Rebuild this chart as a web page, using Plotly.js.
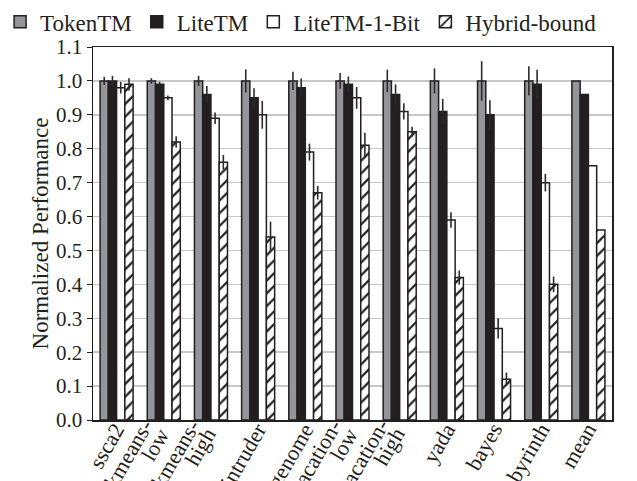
<!DOCTYPE html>
<html>
<head>
<meta charset="utf-8">
<script src="https://cdn.plot.ly/plotly-3.0.1.min.js"></script>
<style>html,body{margin:0;padding:0;background:#fff;}#chart{width:637px;height:481px;}</style>
</head>
<body>
<div id="chart"></div>
<script>
var categories = ["ssca2","kmeans-low","kmeans-high","intruder","genome","vacation-low","vacation-high","yada","bayes","labyrinth","mean"];
var labelLine1 = ["ssca2","kmeans-","kmeans-","intruder","genome","vacation-","vacation-","yada","bayes","labyrinth","mean"];
var labelLine2 = ["","low","high","","","low","high","","","",""];
var seriesNames = ["TokenTM","LiteTM","LiteTM-1-Bit","Hybrid-bound"];
var tokenTM =      [1.00,1.00,1.00,1.00,1.00,1.00,1.00,1.00,1.00,1.00,1.00];
var tokenTMErr =   [0.012,0.008,0.015,0.034,0.027,0.023,0.033,0.037,0.058,0.043,0];
var liteTM =       [1.00,0.99,0.96,0.95,0.98,0.99,0.96,0.91,0.90,0.99,0.96];
var liteTMErr =    [0.015,0.008,0.025,0.028,0.027,0.023,0.030,0.037,0.043,0.043,0];
var liteTM1Bit =   [0.98,0.95,0.89,0.90,0.79,0.95,0.91,0.59,0.27,0.70,0.75];
var liteTM1BitErr =[0.017,0.007,0.017,0.041,0.025,0.032,0.024,0.023,0.030,0.026,0];
var hybrid =       [0.99,0.82,0.76,0.54,0.67,0.81,0.85,0.42,0.12,0.40,0.56];
var hybridErr =    [0.018,0.017,0.022,0.045,0.020,0.037,0.015,0.021,0.020,0.023,0];
var yTicks = [0,0.1,0.2,0.3,0.4,0.5,0.6,0.7,0.8,0.9,1.0,1.1];

var dark = "#231f20";
function err(a){ return {type:"data", array:a, visible:true, width:0, thickness:1.6, color:"#2b2b2b"}; }
var lineStyle = {color: dark, width: 1.5};
var traces = [
  {type:"bar", name:seriesNames[0], x:categories, y:tokenTM, error_y:err(tokenTMErr),
   marker:{color:"#939598", line:lineStyle}},
  {type:"bar", name:seriesNames[1], x:categories, y:liteTM, error_y:err(liteTMErr),
   marker:{color:dark, line:lineStyle}},
  {type:"bar", name:seriesNames[2], x:categories, y:liteTM1Bit, error_y:err(liteTM1BitErr),
   marker:{color:"#ffffff", line:lineStyle}},
  {type:"bar", name:seriesNames[3], x:categories, y:hybrid, error_y:err(hybridErr),
   marker:{color:"#ffffff", line:lineStyle,
     pattern:{shape:"/", fgcolor:dark, bgcolor:"#ffffff", size:9, solidity:0.25}}}
];
var font = '"Liberation Serif", "Times New Roman", "DejaVu Serif", serif';

// rotated category labels (two-line labels split into two annotations)
var annotations = [];
categories.forEach(function(c, i){
  var two = labelLine2[i] !== "";
  var base = {x:c, xref:"x", y:0, yref:"paper", textangle:-60, showarrow:false,
    xanchor:"right", yanchor:"top", font:{family:font, size:22, color:dark}};
  if(!two){
    annotations.push(Object.assign({}, base, {text:labelLine1[i], xshift:16, yshift:4}));
  } else {
    annotations.push(Object.assign({}, base, {text:labelLine1[i], xshift:-3, yshift:8}));
    annotations.push(Object.assign({}, base, {text:labelLine2[i], xshift:13, yshift:-1}));
  }
});

var layout = {
  width:637, height:481,
  margin:{l:93, r:25, t:47, b:61, pad:0, autoexpand:false},
  paper_bgcolor:"#fff", plot_bgcolor:"#fff",
  barmode:"group", bargap:0.3, bargroupgap:0,
  font:{family:font, color:dark, size:20},
  showlegend:true,
  legend:{orientation:"h", x:-0.179, xanchor:"left", y:1.125, yanchor:"top",
    font:{family:font, size:23, color:dark}, bgcolor:"rgba(0,0,0,0)", traceorder:"normal",
    itemwidth:30},
  annotations: annotations,
  xaxis:{type:"category", range:[-0.5, categories.length - 0.5], autorange:false, automargin:false,
    showgrid:false, showline:true, linecolor:dark, linewidth:1.5,
    mirror:true, ticks:"", showticklabels:false},
  yaxis:{range:[0,1.1], autorange:false, tickmode:"array", tickvals:yTicks, ticktext:yTicks.map(function(v){return v.toFixed(1);}),
    automargin:false, showgrid:true, gridcolor:"#c8c8c8", gridwidth:1.5,
    showline:true, linecolor:dark, linewidth:1.5, mirror:true, ticks:"outside", ticklen:5, tickcolor:dark,
    tickfont:{family:font, size:21, color:dark}, zeroline:false,
    title:{text:"Normalized Performance", font:{family:font, size:23, color:dark}, standoff:1}}
};
Plotly.newPlot("chart", traces, layout, {displayModeBar:false, staticPlot:true});
</script>
</body>
</html>
